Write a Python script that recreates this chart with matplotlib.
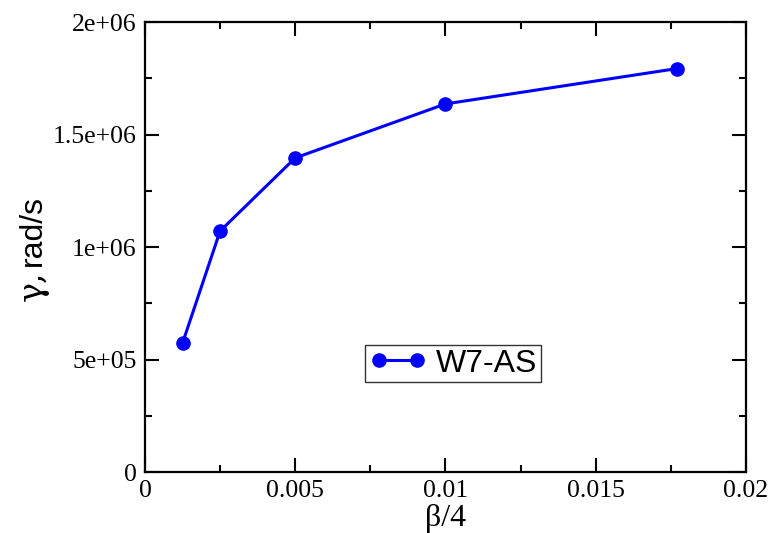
import matplotlib
matplotlib.use("Agg")
import matplotlib.pyplot as plt
from matplotlib.ticker import MultipleLocator

# data
beta_over_4 = [0.00125, 0.0025, 0.005, 0.01, 0.0177]
gamma = [5.73e5, 1.071e6, 1.396e6, 1.636e6, 1.793e6]
series_label = "W7-AS"

x_ticks = [0, 0.005, 0.01, 0.015, 0.02]
x_tick_labels = ["0", "0.005", "0.01", "0.015", "0.02"]
y_ticks = [0, 5e5, 1e6, 1.5e6, 2e6]
y_tick_labels = ["0", "5e+05", "1e+06", "1.5e+06", "2e+06"]

serif = ["Liberation Serif", "DejaVu Serif"]
sans = ["Liberation Sans", "DejaVu Sans"]

fig = plt.figure(figsize=(7.74, 5.33), dpi=100)
ax = fig.add_axes([0.1873, 0.1144, 0.7765, 0.8443])

ax.plot(beta_over_4, gamma, color="#0000ff", lw=2.2, marker="o", ms=9.5,
        label=series_label)

ax.set_xlim(0, 0.02)
ax.set_ylim(0, 2e6)
ax.set_xticks(x_ticks)
ax.set_xticklabels(x_tick_labels)
ax.set_yticks(y_ticks)
ax.set_yticklabels(y_tick_labels)
ax.xaxis.set_minor_locator(MultipleLocator(0.0025))
ax.yaxis.set_minor_locator(MultipleLocator(2.5e5))

for lab in ax.get_xticklabels() + ax.get_yticklabels():
    lab.set_family(serif)
    lab.set_fontsize(18.5)

ax.tick_params(which="both", direction="in", top=True, right=True, width=1.5)
ax.tick_params(which="major", length=10, pad=6)
ax.tick_params(which="minor", length=5)
for s in ax.spines.values():
    s.set_linewidth(1.6)

ax.set_xlabel("β/4", fontsize=23, family=serif, labelpad=1)

# y label: greek symbol in serif, unit in sans (as in the original)
ax.text(-0.186, 0.413, "γ,", transform=ax.transAxes, rotation=90,
        ha="center", va="center", fontsize=24, family=["DejaVu Serif"])
ax.text(-0.186, 0.537, "rad/s", transform=ax.transAxes, rotation=90,
        ha="center", va="center", fontsize=23, family=sans)

leg = ax.legend(loc="center", bbox_to_anchor=(0.513, 0.241), frameon=True,
                fancybox=False, prop={"family": sans, "size": 23},
                numpoints=2, handlelength=1.8, handletextpad=0.3,
                borderpad=0.12, borderaxespad=0)
leg.get_frame().set_edgecolor("black")
leg.get_frame().set_linewidth(1.0)

fig.savefig("out.png", dpi=100)
